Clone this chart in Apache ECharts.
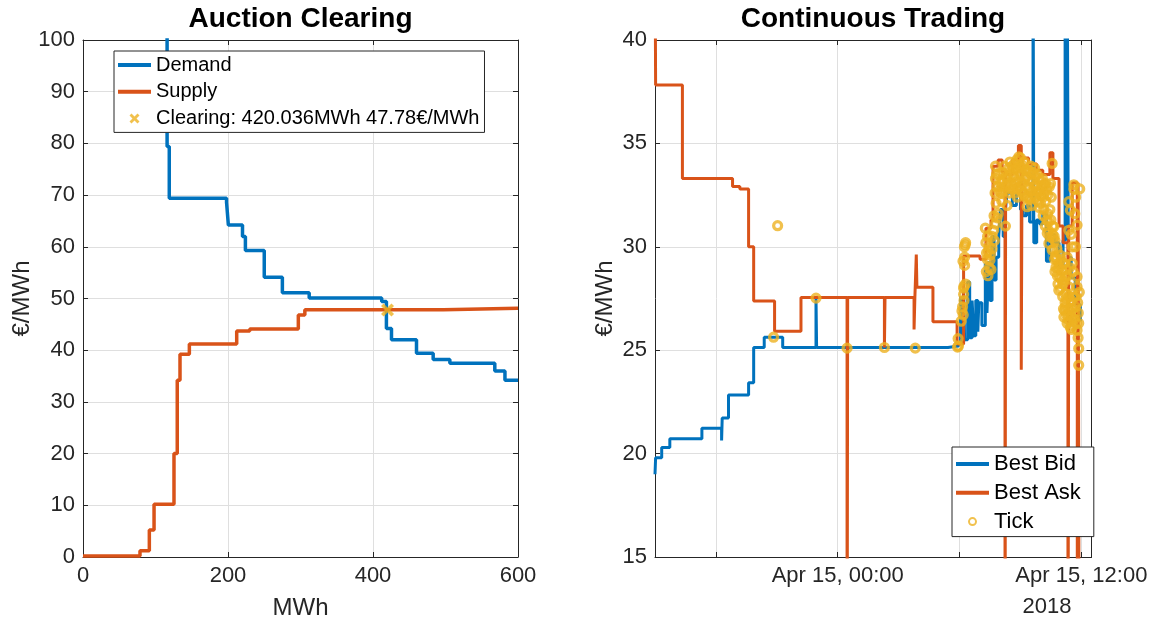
<!DOCTYPE html>
<html><head><meta charset="utf-8">
<script src="https://cdn.jsdelivr.net/npm/echarts@6/dist/echarts.min.js"></script>
<style>html,body{margin:0;padding:0;background:#fff}#c{width:1156px;height:622px}</style>
</head><body><div id="c"></div>
<script>
// ---------- Auction clearing: [MWh, €/MWh] step points (value holds until next point)
const demandSteps = [[0,3000],[116,79.4],[119,69.4],[198,68.6],[200.5,64.2],[220,62.0],[224,59.3],[250,54.1],[275,51.1],[312,50.1],[412,49.4],[418.5,44.2],[425.5,42.0],[460,39.4],[483,38.2],[506,37.5],[568,36.0],[582,34.2],[600,34.2]];
const supplySteps = [[0,0.2],[78.6,1.2],[91.5,5.2],[98,10.2],[125.5,20.0],[130,34.2],[133.8,39.2],[146.7,41.2],[212,43.7],[230,44.1],[297,46.8],[306,47.8],[497,48.1],[600,48.1]];
const clearingMWh = 420.036;
const clearingPrice = 47.78;

// ---------- Continuous trading: [hours relative to 2018-04-15 00:00, €/MWh]
const bidSteps = [[-9.0,19.0],[-8.97,19.8],[-8.67,20.3],[-8.27,20.72],[-6.69,21.22],[-5.72,20.63],[-5.69,21.72],[-5.38,22.83],[-4.39,23.43],[-4.14,25.13],[-3.62,25.63],[-2.71,25.13],[-1.07,27.55],[-1.04,25.13],[5.43,25.2],[5.95,25.3],
 [6.05,27.6],[6.1,25.4],[6.2,27.9],[6.25,25.5],[6.4,28.3],[6.5,25.6],[6.62,27.4],[6.7,25.7],[6.8,27.4],[6.9,25.9],[6.95,27.3],[7.1,26.2],[7.27,29.2],[7.35,26.8],[7.44,29.3],[7.5,27.4],[7.6,30.5],[7.7,28.4],[7.8,29.5],[7.93,30.5],[8.01,31.8],[8.15,30.5],[8.26,31.8],[8.34,32.6],[8.6,32.0],[8.8,32.6],[9.0,31.8],[9.14,31.5],[9.3,32.0],[9.45,31.2],[9.62,45],[9.66,30.2],[9.8,31.3],[9.95,31.1],[10.1,31.6],[10.28,29.3],[10.44,30.6],[10.7,30.2],[10.9,29.0],[11.1,30.3],[11.2,45],[11.24,30.3],[11.3,45],[11.36,29.5],[11.5,28.5],[11.7,27.2],[11.95,26.4]];
const askSteps = [[-9.0,45],[-8.97,37.83],[-7.65,33.3],[-5.18,32.92],[-4.82,32.8],[-4.39,30.0],[-4.14,27.38],[-3.11,25.92],[-1.81,27.55],[0.46,5],[0.49,27.55],[2.3,25.13],[2.33,27.55],[3.76,26.0],[3.8,27.55],[3.87,29.63],[3.9,28.05],[4.69,26.38],[5.88,25.3],[6.2,29.55],[7.01,29.4],[7.3,30.9],[7.55,31.3],[7.65,33.9],[7.9,34.2],[8.1,33.6],[8.24,5],[8.27,33.5],[8.6,34.2],[8.9,34.9],[9.04,24.05],[9.08,34.3],[9.4,34.0],[9.8,33.7],[10.1,33.5],[10.45,34.55],[10.6,33.3],[10.9,31.0],[11.1,30.2],[11.34,5],[11.38,31.0],[11.55,33.1],[11.8,5],[11.84,33.1],[11.9,5],[11.97,5]];
const tickPoints = [[-3.16,25.63],[-2.96,31.02],[-1.07,27.52],[0.46,25.1],[2.3,25.13],[3.82,25.1],
 [5.9,25.15],[5.93,25.56],[5.95,25.2],
 [6.12,26.9],[6.15,27.1],[6.18,26.7],[6.2,27.7],[6.22,28.1],[6.3,28.2],[6.2,28.0],[6.25,29.1],[6.25,29.5],[6.28,30.1],[6.3,30.2],[6.17,29.3],[6.24,30.0],[6.22,27.4],[6.08,26.4],
 [7.27,30.9],[7.3,30.2],[7.33,29.7],[7.36,29.4],[7.42,29.8],[7.5,29.35],[7.38,30.5],[7.45,30.0],[7.52,29.6],[7.32,28.8],[7.46,29.0],[7.4,28.6],[7.55,28.9],
 [7.6,30.5],[7.68,30.8],[7.77,31.1],[7.85,31.4],[7.9,31.6],[7.72,30.3],[7.6,29.9],[7.7,31.5],[7.8,32.1],
 [7.75,32.6],[7.77,33.3],[7.77,33.9],[7.93,32.7],[8.0,33.1],[7.85,32.9],[7.82,33.5],[8.05,32.6],[7.95,33.5],[8.08,32.2],
 [8.26,31.0],[8.34,32.0],[8.34,33.0],[8.42,33.8],[8.5,33.5],[8.45,32.6],[8.3,33.4],[8.55,33.0],[8.2,32.7],[8.15,33.2],[8.1,32.9],[8.1,33.6],[8.22,33.9],[8.38,33.3],[8.48,34.1],[8.52,32.8],
 [8.59,33.9],[8.67,33.4],[8.75,32.6],[8.84,32.4],[8.92,34.35],[8.7,34.0],[8.8,33.8],[8.88,33.2],[8.95,32.9],[9.0,34.3],[8.92,33.7],[9.0,33.5],[8.62,32.8],[8.78,33.1],[8.65,33.7],[8.72,33.0],[8.82,34.2],[8.86,32.8],[8.97,33.9],
 [9.08,33.06],[9.15,33.9],[9.2,34.1],[9.25,32.4],[9.33,31.94],[9.3,33.4],[9.4,33.7],[9.45,32.8],[9.5,33.55],[9.35,32.9],[9.12,32.6],[9.22,33.3],[9.05,32.7],[9.05,33.8],[9.18,32.5],[9.28,33.7],[9.38,32.4],[9.42,33.2],[9.48,32.3],[9.52,33.9],
 [9.6,33.2],[9.65,32.5],[9.74,33.4],[9.74,32.4],[9.8,33.0],[9.85,32.2],[9.9,33.3],[9.99,33.2],[9.99,32.1],[9.95,32.7],[9.55,32.0],[9.7,33.8],[9.58,32.7],[9.62,33.6],[9.68,32.9],[9.78,32.7],[9.82,33.5],[9.88,32.6],[9.92,31.9],
 [10.05,32.9],[10.1,32.4],[10.15,31.8],[10.2,33.0],[10.24,33.06],[10.3,31.3],[10.32,30.65],[10.35,32.5],[10.4,30.16],[10.45,31.8],[10.48,33.06],[10.42,32.9],[10.25,32.2],[10.38,31.2],[10.02,32.5],[10.08,33.3],[10.12,31.5],[10.18,32.6],[10.22,31.0],[10.28,32.8],[10.34,31.6],[10.38,30.8],[10.45,30.5],
 [10.56,34.03],[10.56,29.84],[10.6,31.0],[10.64,30.97],[10.7,30.3],[10.72,29.52],[10.8,29.9],[10.85,28.9],[10.89,29.19],[10.89,27.9],[10.95,28.5],[10.6,30.4],[10.75,29.0],[10.5,31.3],[10.52,32.4],[10.58,30.6],[10.62,29.9],[10.66,30.5],[10.68,29.4],[10.78,29.4],[10.82,28.6],[10.92,29.0],[10.98,28.0],[10.7,28.8],[10.85,28.2],[10.95,29.6],
 [11.05,28.87],[11.1,28.2],[11.14,26.6],[11.2,27.3],[11.22,28.55],[11.22,27.74],[11.22,27.1],[11.3,29.5],[11.3,26.3],[11.38,32.18],[11.38,30.8],[11.38,28.06],[11.35,27.0],[11.42,26.4],[11.46,31.77],[11.46,26.1],[11.5,27.4],[11.0,29.4],[11.08,27.6],[11.02,28.4],[11.12,27.0],[11.16,28.4],[11.18,26.9],[11.26,27.5],[11.28,26.7],[11.32,28.6],[11.34,26.5],[11.4,27.6],[11.44,27.0],[11.48,26.6],[11.5,30.6],[11.42,29.0],[11.15,29.2],[11.25,28.9],
 [11.55,30.0],[11.6,26.2],[11.63,33.0],[11.63,32.8],[11.63,27.58],[11.65,26.5],[11.71,30.0],[11.71,27.1],[11.75,26.3],[11.79,31.05],[11.79,28.55],[11.79,28.06],[11.79,25.97],[11.85,26.8],[11.87,26.3],[11.87,25.08],[11.87,24.27],[11.6,28.8],[11.55,29.2],[11.52,26.0],[11.58,27.0],[11.68,26.8],[11.74,27.6],[11.82,27.3],[11.84,25.6],[11.68,31.6],[11.72,32.4],[11.9,27.8],[11.92,32.8]];

// ---------- Axis ticks / labels
const timeTickHours = [-6, 0, 6, 12];
const timeLabelHours = [0, 12];
const timeLabelText = ['Apr 15, 00:00', 'Apr 15, 12:00'];
const yearLabel = '2018';

const FONT = '"Liberation Sans", Arial, Helvetica, sans-serif';
const AX = '#262626';
const BLUE = '#0072BD', ORANGE = '#D95319', YELLOW = '#EDB120';
const GRIDC = '#dfdfdf';
const clearingName = 'Clearing: ' + clearingMWh + 'MWh ' + clearingPrice + '€/MWh';
const X_PATH = 'path://M2,0 L5,3 L8,0 L10,2 L7,5 L10,8 L8,10 L5,7 L2,10 L0,8 L3,5 L0,2 Z';
const LINE_ICON = 'path://M0,0 L33,0 L33,4 L0,4 Z';

function mainAxis(o) {
  return Object.assign({
    type: 'value',
    axisLine: { show: true, onZero: false, lineStyle: { color: AX, width: 1 } },
    axisTick: { show: true, inside: true, length: 5, lineStyle: { color: AX } },
    axisLabel: { color: AX, fontSize: 22, fontFamily: FONT, margin: 8 },
    splitLine: { show: true, lineStyle: { color: GRIDC, width: 1 } },
    nameTextStyle: { color: AX, fontSize: 24, fontFamily: FONT },
    nameLocation: 'middle'
  }, o);
}
function boxAxis(o) {
  return Object.assign({
    type: 'value',
    axisLine: { show: true, onZero: false, lineStyle: { color: AX, width: 1 } },
    axisTick: { show: true, inside: true, length: 5, lineStyle: { color: AX } },
    axisLabel: { show: false },
    splitLine: { show: false }
  }, o);
}
const legendBase = {
  orient: 'vertical', itemWidth: 33, selectedMode: false,
  backgroundColor: '#fff', borderColor: AX, borderWidth: 1, borderRadius: 0
};

const chart = echarts.init(document.getElementById('c'), null, { renderer: 'canvas' });
chart.setOption({
  backgroundColor: '#fff',
  animation: false,
  textStyle: { fontFamily: FONT },
  grid: [
    { left: 83, top: 40, width: 435, height: 517, outerBoundsMode: 'none', containLabel: false },
    { left: 655, top: 40, width: 436.5, height: 517, outerBoundsMode: 'none', containLabel: false }
  ],
  xAxis: [
    mainAxis({ gridIndex: 0, position: 'bottom', min: 0, max: 600, interval: 200, name: 'MWh', nameGap: 39 }),
    boxAxis({ gridIndex: 0, position: 'top', min: 0, max: 600, interval: 200 }),
    mainAxis({ gridIndex: 1, position: 'bottom', min: -9, max: 12.5,
      axisTick: { show: true, inside: true, length: 5, lineStyle: { color: AX }, customValues: timeTickHours },
      axisLabel: { color: AX, fontSize: 22, fontFamily: FONT, margin: 8, customValues: timeLabelHours,
        formatter: v => { const i = timeLabelHours.indexOf(v); return i >= 0 ? timeLabelText[i] : ''; } } }),
    boxAxis({ gridIndex: 1, position: 'top', min: -9, max: 12.5,
      axisTick: { show: true, inside: true, length: 5, lineStyle: { color: AX }, customValues: timeTickHours } })
  ],
  yAxis: [
    mainAxis({ gridIndex: 0, position: 'left', min: 0, max: 100, interval: 10, name: '€/MWh', nameGap: 49, nameRotate: 90 }),
    boxAxis({ gridIndex: 0, position: 'right', min: 0, max: 100, interval: 10 }),
    mainAxis({ gridIndex: 1, position: 'left', min: 15, max: 40, interval: 5, name: '€/MWh', nameGap: 38, nameRotate: 90 }),
    boxAxis({ gridIndex: 1, position: 'right', min: 15, max: 40, interval: 5 })
  ],
  legend: [
    Object.assign({}, legendBase, {
      data: [{ name: 'Demand', icon: LINE_ICON }, { name: 'Supply', icon: LINE_ICON }, { name: clearingName, icon: X_PATH }],
      left: 114, top: 51, padding: [4, 5, 4, 4], itemHeight: 10, itemGap: 6.7,
      textStyle: { color: '#000', fontSize: 20, lineHeight: 20, fontFamily: FONT } }),
    Object.assign({}, legendBase, {
      data: [{ name: 'Best Bid', icon: LINE_ICON }, { name: 'Best Ask', icon: LINE_ICON }, { name: 'Tick' }],
      left: 952, top: 447, padding: [6, 13, 4, 4], itemHeight: 7, itemGap: 6.8,
      textStyle: { color: '#000', fontSize: 22, lineHeight: 22, fontFamily: FONT } })
  ],
  graphic: [
    { type: 'text', x: 300.5, y: 19, style: { text: 'Auction Clearing', font: 'bold 28px ' + FONT, fill: '#000', align: 'center', verticalAlign: 'middle' } },
    { type: 'text', x: 873, y: 19, style: { text: 'Continuous Trading', font: 'bold 28px ' + FONT, fill: '#000', align: 'center', verticalAlign: 'middle' } },
    { type: 'text', x: 1047, y: 607, style: { text: yearLabel, font: '22px ' + FONT, fill: AX, align: 'center', verticalAlign: 'middle' } }
  ],
  series: [
    { name: 'Demand', type: 'line', xAxisIndex: 0, yAxisIndex: 0, step: 'end', symbol: 'none',
      data: demandSteps, lineStyle: { color: BLUE, width: 3.5 }, itemStyle: { color: BLUE }, z: 3 },
    { name: 'Supply', type: 'line', xAxisIndex: 0, yAxisIndex: 0, step: 'end', symbol: 'none',
      data: supplySteps, lineStyle: { color: ORANGE, width: 3.5 }, itemStyle: { color: ORANGE }, z: 3 },
    { name: clearingName, type: 'scatter', xAxisIndex: 0, yAxisIndex: 0, symbol: X_PATH, symbolSize: 13,
      data: [[clearingMWh, clearingPrice]], itemStyle: { color: YELLOW }, z: 5 },
    { name: 'Best Bid', type: 'line', xAxisIndex: 2, yAxisIndex: 2, step: 'end', symbol: 'none',
      data: bidSteps, lineStyle: { color: BLUE, width: 3 }, itemStyle: { color: BLUE }, z: 3 },
    { name: 'Best Ask', type: 'line', xAxisIndex: 2, yAxisIndex: 2, step: 'end', symbol: 'none',
      data: askSteps, lineStyle: { color: ORANGE, width: 3 }, itemStyle: { color: ORANGE }, z: 3 },
    { name: 'Tick', type: 'scatter', xAxisIndex: 2, yAxisIndex: 2, symbol: 'circle', symbolSize: 8,
      data: tickPoints, itemStyle: { color: 'rgba(0,0,0,0)', borderColor: YELLOW, borderWidth: 3.2 }, z: 4 }
  ]
});
</script></body></html>
